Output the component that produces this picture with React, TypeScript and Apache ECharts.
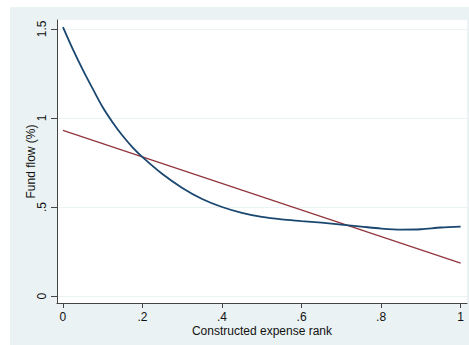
import React, { useEffect, useRef } from "react";
import * as echarts from "echarts";

const flowX = [0, 0.025, 0.05, 0.075, 0.1, 0.125, 0.15, 0.175, 0.2, 0.25, 0.3, 0.35, 0.4, 0.45, 0.5, 0.55, 0.6, 0.65, 0.7, 0.75, 0.8, 0.85, 0.9, 0.95, 1.0];
const flowY = [1.51, 1.385, 1.27, 1.163, 1.06, 0.975, 0.9, 0.835, 0.78, 0.685, 0.607, 0.545, 0.5, 0.467, 0.444, 0.43, 0.421, 0.412, 0.401, 0.39, 0.379, 0.373, 0.375, 0.385, 0.39];
const fitX = [0, 1];
const fitY = [0.93, 0.185];
const xTicks = [0, 0.2, 0.4, 0.6, 0.8, 1];
const yTicks = [0, 0.5, 1, 1.5];

const fmt = (v: number) => {
  const s = String(Math.round(v * 100) / 100);
  return s.startsWith("0.") ? s.slice(1) : s;
};

export default function App() {
  const ref = useRef<HTMLDivElement>(null);
  useEffect(() => {
    document.body.style.margin = "0";
    const chart = echarts.init(ref.current!, null, { renderer: "svg" });
    const font = "'Liberation Sans', Arial, sans-serif";
    chart.setOption({
      animation: false,
      backgroundColor: "#ffffff",
      textStyle: { fontFamily: font },
      graphic: [
        { type: "rect", z: -10, shape: { x: 10, y: 7, width: 459, height: 338 }, style: { fill: "#EAF2F3" } },
      ],
      grid: { left: 57, top: 20, right: 2, bottom: 42, show: true, backgroundColor: "#ffffff", borderWidth: 0 },
      xAxis: {
        type: "value",
        min: -0.015,
        max: 1.016,
        name: "Constructed expense rank",
        nameLocation: "middle",
        nameGap: 22,
        nameMoveOverlap: false,
        nameTextStyle: { fontSize: 12, color: "#111", fontFamily: font },
        axisLine: { show: true, onZero: false, lineStyle: { color: "#444", width: 1 } },
        axisTick: { show: true, length: 5, customValues: xTicks, lineStyle: { color: "#444" } },
        axisLabel: { customValues: xTicks, formatter: fmt, fontSize: 12, color: "#111", margin: 8, fontFamily: font },
        splitLine: { show: false },
      },
      yAxis: {
        type: "value",
        min: -0.039,
        max: 1.55,
        name: "Fund flow (%)",
        nameLocation: "middle",
        nameGap: 20,
        nameMoveOverlap: false,
        nameTextStyle: { fontSize: 12, color: "#111", fontFamily: font },
        axisLine: { show: true, onZero: false, lineStyle: { color: "#444", width: 1 } },
        axisTick: { show: true, length: 6, customValues: yTicks, lineStyle: { color: "#444" } },
        axisLabel: { customValues: yTicks, formatter: fmt, rotate: 90, fontSize: 12, color: "#111", margin: 9, fontFamily: font },
        splitLine: { show: true, lineStyle: { color: "#EAF2F3", width: 1 } },
      },
      series: [
        {
          type: "line",
          data: fitX.map((x, i) => [x, fitY[i]]),
          showSymbol: false,
          lineStyle: { color: "#90353B", width: 1.2 },
          z: 2,
        },
        {
          type: "line",
          data: flowX.map((x, i) => [x, flowY[i]]),
          smooth: 0.3,
          showSymbol: false,
          lineStyle: { color: "#1A476F", width: 1.8 },
          z: 3,
        },
      ],
    });
    return () => chart.dispose();
  }, []);
  return <div ref={ref} style={{ width: 469, height: 345 }} />;
}
